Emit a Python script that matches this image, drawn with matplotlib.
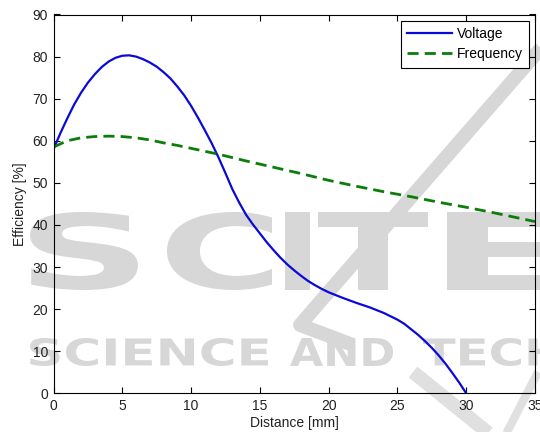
import matplotlib
matplotlib.use('Agg')
import matplotlib.pyplot as plt
from matplotlib.textpath import TextPath
from matplotlib.patches import PathPatch
from matplotlib.font_manager import FontProperties
from matplotlib.transforms import Affine2D

# efficiency vs distance
dist_voltage = [0, 0.5, 1.0, 1.5, 2.0, 2.5, 3.0, 3.5, 4.0, 4.5, 5.0, 5.5, 6.0,
                6.5, 7.0, 7.5, 8.0, 8.5, 9.0, 9.5, 10.0, 10.5, 11.0, 11.5, 12.0,
                12.5, 13.0, 13.5, 14.0, 14.5, 15.0, 15.5, 16.0, 16.5, 17.0, 17.5,
                18.0, 18.5, 19.0, 19.5, 20.0, 21.0, 22.0, 23.0, 24.0, 25.0, 25.5,
                26.0, 26.5, 27.0, 27.5, 28.0, 28.5, 29.0, 29.5, 30.0]
eff_voltage = [58.0, 61.8, 65.3, 68.6, 71.4, 73.8, 75.8, 77.5, 78.8, 79.7, 80.2,
               80.3, 80.0, 79.4, 78.6, 77.6, 76.3, 74.8, 72.9, 70.8, 68.3, 65.5,
               62.5, 59.4, 56.0, 52.3, 48.5, 45.3, 42.4, 40.1, 38.0, 35.9, 34.0,
               32.2, 30.6, 29.2, 27.9, 26.7, 25.7, 24.8, 24.0, 22.7, 21.5, 20.4,
               19.1, 17.5, 16.5, 15.2, 13.9, 12.4, 10.8, 9.0, 7.0, 4.8, 2.5, 0.0]

dist_freq = [0, 1, 2, 3, 4, 5, 6, 7, 8, 9, 10, 12, 14, 16, 18, 20, 22, 24, 26,
             28, 30, 32, 34, 35]
eff_freq = [58.5, 60.0, 60.7, 61.0, 61.1, 61.0, 60.7, 60.2, 59.5, 58.9, 58.2,
            56.8, 55.2, 53.7, 52.2, 50.6, 49.2, 47.9, 46.7, 45.4, 44.2, 42.9,
            41.5, 40.8]

x_ticks = [0, 5, 10, 15, 20, 25, 30, 35]
y_ticks = [0, 10, 20, 30, 40, 50, 60, 70, 80, 90]

plt.rcParams['font.family'] = ['Liberation Sans', 'DejaVu Sans']
plt.rcParams['font.size'] = 10

fig = plt.figure(figsize=(5.4, 4.32), dpi=100)

# watermark layer behind the plot (pixel coords, y down)
wm = fig.add_axes([0, 0, 1, 1], zorder=-1)
wm.set_xlim(0, 540)
wm.set_ylim(432, 0)
wm.axis('off')
wm_color = '#d7d7d7'
bold = FontProperties(family='DejaVu Sans', weight='bold')


def put_text(s, x0, x1, y_top, y_bot, ref=None):
    """stretch text s so that ref (or s) spans x0..x1 and y_top..y_bot"""
    tp = TextPath((0, 0), s, size=1, prop=bold)
    rp = TextPath((0, 0), ref if ref else s, size=1, prop=bold)
    ext = rp.get_extents()
    sx = (x1 - x0) / ext.width
    sy = (y_bot - y_top) / ext.height
    tr = Affine2D().translate(-ext.x0, -ext.y0).scale(sx, -sy).translate(x0, y_bot)
    wm.add_patch(PathPatch(tr.transform_path(tp), color=wm_color, lw=0))


for ch, a, b in [('S', 30, 138), ('C', 167, 272), ('I', 285, 310),
                 ('T', 318, 428), ('E', 447, 560)]:
    put_text(ch, a, b, 212, 290)
put_text('SCIENCE', 30, 268, 338, 366)
put_text('AND', 290, 393, 338, 366)
put_text('TECH', 423, 560, 338, 366)
wm.plot([548, 325], [40, 296], color=wm_color, lw=10, solid_capstyle='butt')
wm.plot([325, 300, 345], [296, 325, 342], color=wm_color, lw=10)
wm.plot([413, 492], [372, 436], color='#e0e0e0', lw=10, solid_capstyle='butt')
wm.plot([538, 505], [372, 436], color='#e0e0e0', lw=6, solid_capstyle='butt')

ax = fig.add_axes([53.5 / 540, 1 - 393.3 / 432, 481.5 / 540, 378.8 / 432])
ax.patch.set_alpha(0)

ax.plot(dist_voltage, eff_voltage, color='#0a0ad8', lw=1.6, label='Voltage')
ax.plot(dist_freq, eff_freq, '--', color='#0b7d0b', lw=2.0, dashes=(4, 2.2),
        label='Frequency')

ax.set_xlim(0, 35)
ax.set_ylim(0, 90)
ax.set_xticks(x_ticks)
ax.set_yticks(y_ticks)
ax.tick_params(direction='in', length=4, width=0.8, top=True, right=True,
               labelcolor='#222222', pad=4)
for sp in ax.spines.values():
    sp.set_linewidth(0.8)
ax.set_xlabel('Distance [mm]', color='#222222', labelpad=2)
ax.set_ylabel('Efficiency [%]', color='#222222', labelpad=4)

leg = ax.legend(loc='upper right', fancybox=False, framealpha=1,
                edgecolor='black', handlelength=3.2, handletextpad=0.35,
                borderpad=0.45, labelspacing=0.45, borderaxespad=0.45)
leg.get_frame().set_linewidth(0.8)

fig.savefig('out.png', dpi=100)
